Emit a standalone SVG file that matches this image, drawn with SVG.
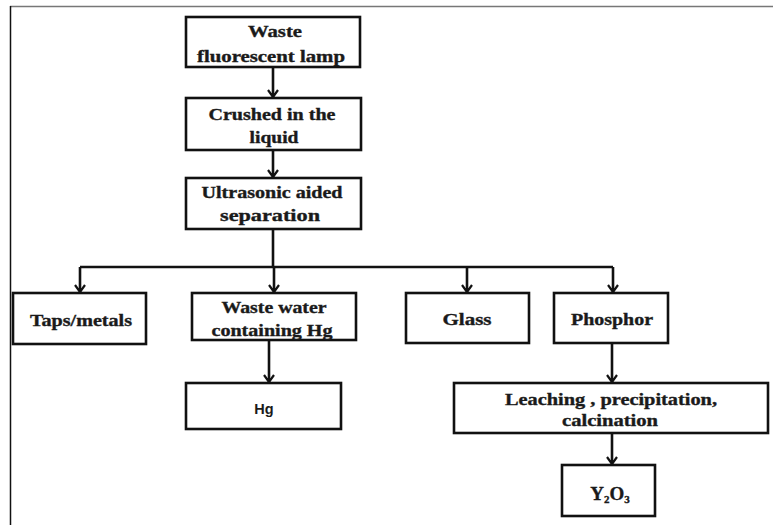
<svg xmlns="http://www.w3.org/2000/svg" width="773" height="525" viewBox="0 0 773 525">
  <defs>
    <style>
      .box { fill: #fff; stroke: #111; stroke-width: 2.6; }
      .lbl { font-family: "Liberation Serif", "Times New Roman", serif; font-weight: bold; font-size: 16.5px; fill: #1a1a1a; stroke: #1a1a1a; stroke-width: 0.35; text-anchor: middle; }
      .lbl-sans { font-family: "Liberation Sans", Arial, sans-serif; font-weight: bold; font-size: 14.5px; fill: #1a1a1a; text-anchor: middle; }
      .wire { fill: none; stroke: #111; stroke-width: 2.6; }
      .big { font-size: 19px; }
      .sub { font-size: 11px; }
    </style>
    <marker id="arrow" markerWidth="12" markerHeight="10" refX="6" refY="9" orient="0" markerUnits="userSpaceOnUse" viewBox="0 0 12 10">
      <path d="M1,2 L6,9 L11,2" fill="none" stroke="#111" stroke-width="2.2"/>
      <path d="M4,5 L6,9 L8,5 Z" fill="#111"/>
    </marker>
  </defs>

  <!-- outer frame -->
  <line x1="10" y1="6.5" x2="773" y2="6.5" stroke="#777" stroke-width="1.5"/>
  <line x1="10.5" y1="6" x2="10.5" y2="525" stroke="#111" stroke-width="1.5"/>

  <g id="connectors">
    <path class="wire" d="M273,67 V97" marker-end="url(#arrow)"/>
    <path class="wire" d="M273,150 V177" marker-end="url(#arrow)"/>
    <path class="wire" d="M273,229 V267"/>
    <path class="wire" d="M80,267 H613"/>
    <path class="wire" d="M80,267 V292" marker-end="url(#arrow)"/>
    <path class="wire" d="M274,267 V292" marker-end="url(#arrow)"/>
    <path class="wire" d="M467,267 V292" marker-end="url(#arrow)"/>
    <path class="wire" d="M613,267 V292" marker-end="url(#arrow)"/>
    <path class="wire" d="M269,340 V382" marker-end="url(#arrow)"/>
    <path class="wire" d="M612,343 V382" marker-end="url(#arrow)"/>
    <path class="wire" d="M612,433 V464" marker-end="url(#arrow)"/>
  </g>

  <g id="lamp">
    <rect class="box" x="186" y="17" width="174" height="50"/>
    <text class="lbl" x="275" y="37" textLength="54" lengthAdjust="spacingAndGlyphs">Waste</text>
    <text class="lbl" x="271" y="62" textLength="148" lengthAdjust="spacingAndGlyphs">fluorescent lamp</text>
  </g>

  <g id="crushed">
    <rect class="box" x="186" y="98" width="175" height="52"/>
    <text class="lbl" x="272" y="120" textLength="127" lengthAdjust="spacingAndGlyphs">Crushed in the</text>
    <text class="lbl" x="274" y="143" textLength="49" lengthAdjust="spacingAndGlyphs">liquid</text>
  </g>

  <g id="ultrasonic">
    <rect class="box" x="186" y="178" width="175" height="51"/>
    <text class="lbl" x="272" y="198" textLength="141" lengthAdjust="spacingAndGlyphs">Ultrasonic aided</text>
    <text class="lbl" x="270" y="221" textLength="100" lengthAdjust="spacingAndGlyphs">separation</text>
  </g>

  <g id="taps">
    <rect class="box" x="13" y="293" width="133" height="51"/>
    <text class="lbl" x="81" y="326" textLength="102" lengthAdjust="spacingAndGlyphs">Taps/metals</text>
  </g>

  <g id="wastewater">
    <rect class="box" x="192" y="293" width="164" height="47"/>
    <text class="lbl" x="274" y="313" textLength="105" lengthAdjust="spacingAndGlyphs">Waste water</text>
    <text class="lbl" x="272" y="336" textLength="121" lengthAdjust="spacingAndGlyphs">containing Hg</text>
  </g>

  <g id="glass">
    <rect class="box" x="406" y="293" width="123" height="50"/>
    <text class="lbl" x="467" y="325" textLength="49" lengthAdjust="spacingAndGlyphs">Glass</text>
  </g>

  <g id="phosphor">
    <rect class="box" x="554" y="293" width="114" height="50"/>
    <text class="lbl" x="612" y="325" textLength="82" lengthAdjust="spacingAndGlyphs">Phosphor</text>
  </g>

  <g id="hg">
    <rect class="box" x="186" y="383" width="155" height="46"/>
    <text class="lbl-sans" x="264" y="414">Hg</text>
  </g>

  <g id="leaching">
    <rect class="box" x="454" y="383" width="314" height="50"/>
    <text class="lbl" x="611" y="405" textLength="212" lengthAdjust="spacingAndGlyphs">Leaching , precipitation,</text>
    <text class="lbl" x="610" y="426" textLength="96" lengthAdjust="spacingAndGlyphs">calcination</text>
  </g>

  <g id="yttria">
    <rect class="box" x="562" y="465" width="93" height="51"/>
    <text class="lbl big" x="610" y="500">Y<tspan class="sub" dy="3">2</tspan><tspan dy="-3">O</tspan><tspan class="sub" dy="3">3</tspan></text>
  </g>
</svg>
